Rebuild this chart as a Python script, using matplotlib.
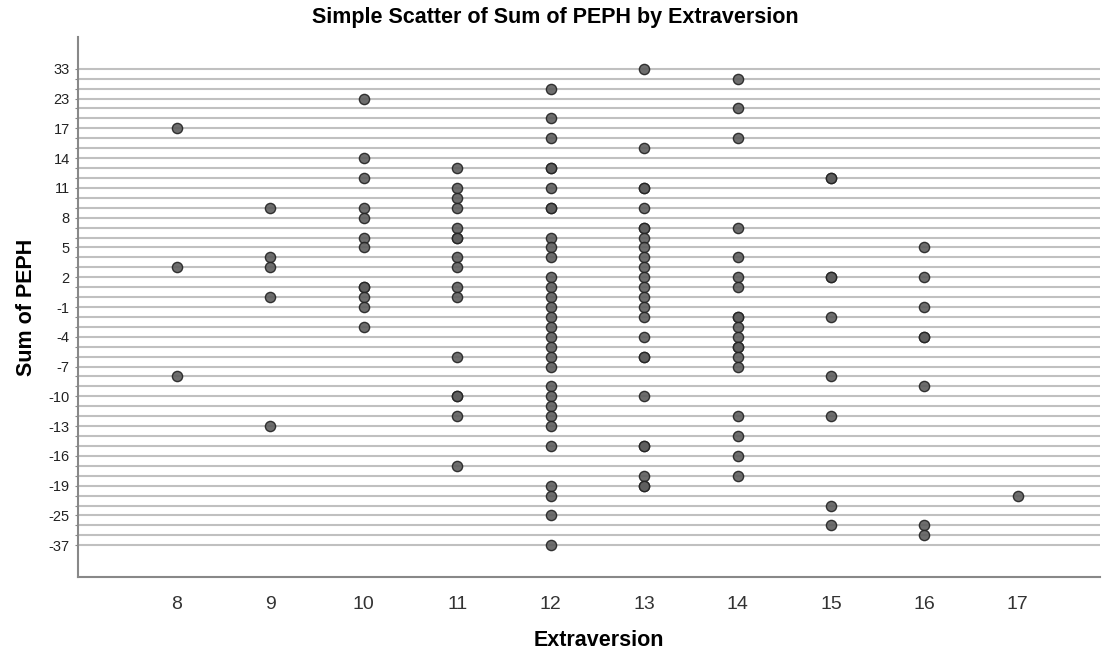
import matplotlib
matplotlib.use("Agg")
import matplotlib.pyplot as plt

plt.rcParams['font.family'] = ['Liberation Sans', 'DejaVu Sans']

# Category levels of Sum of PEPH (string variable), bottom to top as drawn
peph_levels = [-37, -30, -28, -25, -22, -20, -19, -18, -17, -16, -15, -14, -13,
               -12, -11, -10, -9, -8, -7, -6, -5, -4, -3, -2, -1, 0, 1, 2, 3,
               4, 5, 6, 7, 8, 9, 10, 11, 12, 13, 14, 15, 16, 17, 19, 21, 23,
               25, 28, 33]

# Observations per Extraversion score (duplicates drawn where points overlap)
extra_8 = [17, 3, -8]
extra_9 = [9, 4, 3, 0, -13]
extra_10 = [23, 14, 12, 9, 8, 6, 5, 1, 1, 0, -1, -3]
extra_11 = [13, 11, 10, 9, 7, 6, 6, 4, 3, 1, 0, -6, -10, -10, -12, -17]
extra_12 = [25, 19, 16, 13, 13, 11, 9, 9, 6, 5, 4, 2, 1, 0, -1, -2, -3, -4,
            -5, -6, -7, -9, -10, -11, -12, -13, -15, -19, -20, -25, -37]
extra_13 = [33, 15, 11, 11, 9, 7, 7, 6, 5, 4, 3, 2, 1, 0, -1, -2, -4, -6, -6,
            -10, -15, -15, -18, -19, -19]
extra_14 = [28, 21, 16, 7, 4, 2, 1, -2, -2, -3, -4, -5, -5, -6, -7, -12,
            -14, -16, -18]
extra_15 = [12, 12, 2, 2, -2, -8, -12, -22, -28]
extra_16 = [5, 2, -1, -4, -4, -9, -28, -30]
extra_17 = [-20]

columns = {8: extra_8, 9: extra_9, 10: extra_10, 11: extra_11, 12: extra_12,
           13: extra_13, 14: extra_14, 15: extra_15, 16: extra_16, 17: extra_17}

x_ticks = [8, 9, 10, 11, 12, 13, 14, 15, 16, 17]

level_labels = [str(v) for v in peph_levels]

fig = plt.figure(figsize=(11.14, 6.55), dpi=100)
ax = fig.add_axes([78 / 1114, 1 - 577 / 655, (1100 - 78) / 1114, (577 - 37) / 655])

# register categorical levels in order
ax.yaxis.update_units(level_labels)

xs, ys = [], []
for xv, vals in columns.items():
    for v in vals:
        xs.append(xv)
        ys.append(str(v))

ax.scatter(xs, ys, s=54, facecolor='#5e5e5e', edgecolor='#222222',
           linewidth=1.0, alpha=0.9, zorder=3)

# gridlines at every level
ax.set_yticks(level_labels)
ax.yaxis.grid(True, color='#c0c0c0', linewidth=1.5, zorder=0)
ax.set_axisbelow(True)
for i, lab in enumerate(ax.get_yticklabels()):
    lab.set_visible(i % 3 == 0)

ax.set_ylim(-3.2, len(peph_levels) - 1 + 3.2)
ax.set_xlim(6.94, 17.88)
ax.set_xticks(x_ticks)
ax.set_xticklabels([str(t) for t in x_ticks])

ax.tick_params(axis='y', length=2, color='#888888', labelsize=10.5, pad=4,
               labelcolor='#222222')
ax.tick_params(axis='x', length=0, labelsize=14, pad=14, labelcolor='#333333')

for s in ['top', 'right']:
    ax.spines[s].set_visible(False)
for s in ['left', 'bottom']:
    ax.spines[s].set_color('#888888')
    ax.spines[s].set_linewidth(1.5)

ax.set_xlabel('Extraversion', fontsize=15.5, fontweight='bold')
ax.xaxis.set_label_coords((599 - 78) / (1100 - 78), -(640 - 577) / (577 - 37))
ax.xaxis.label.set_va('center')
ax.set_ylabel('Sum of PEPH', fontsize=15.5, fontweight='bold', labelpad=8)
fig.text(555 / 1114, 1 - 18 / 655, 'Simple Scatter of Sum of PEPH by Extraversion',
         ha='center', va='center', fontsize=15.5, fontweight='bold')

fig.savefig('out.png', dpi=100)
